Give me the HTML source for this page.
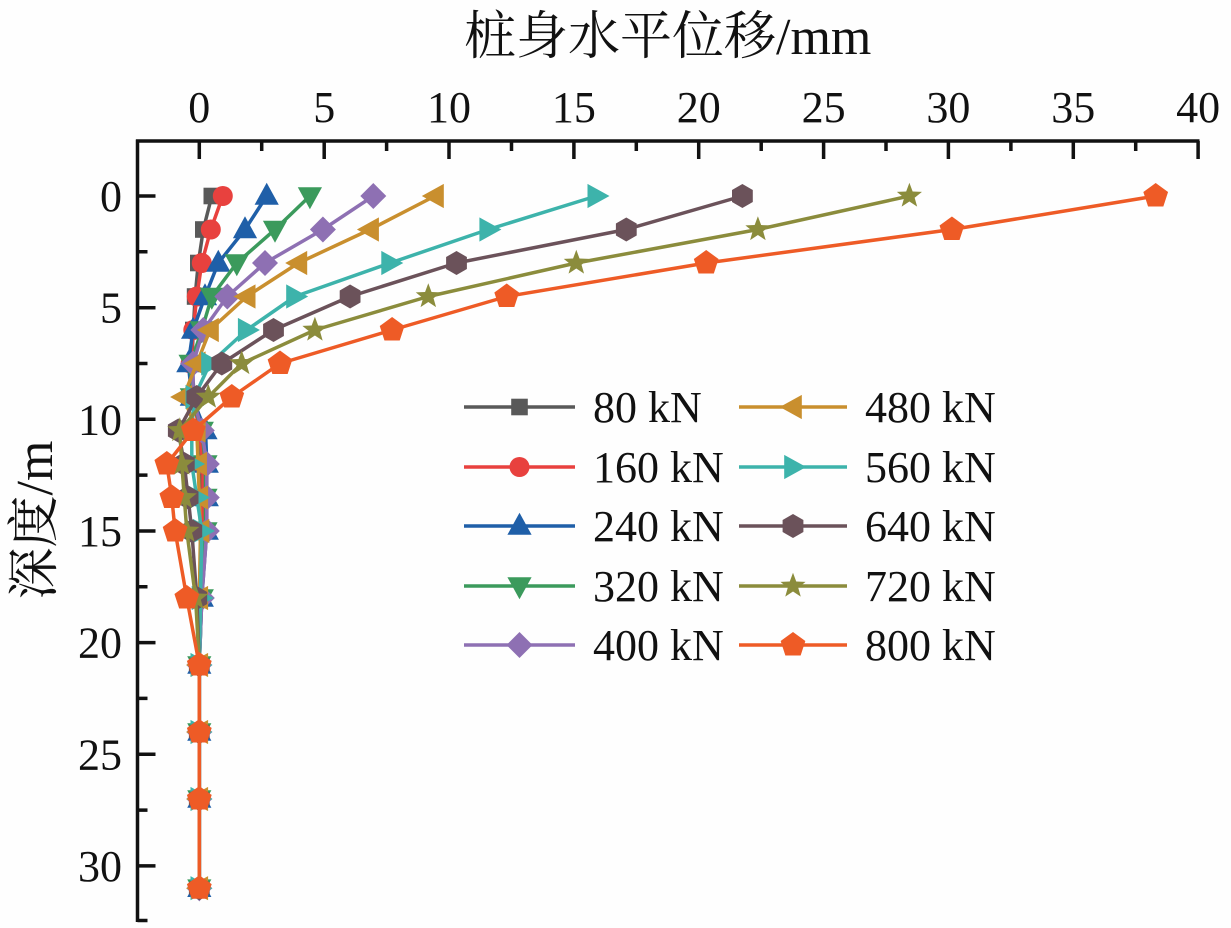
<!DOCTYPE html>
<html>
<head>
<meta charset="utf-8">
<style>
html,body{margin:0;padding:0;background:#fff;}
svg{display:block;}
.t{font-family:"Liberation Serif","Noto Serif CJK SC",serif;fill:#111;}
</style>
</head>
<body>
<svg width="1231" height="928" viewBox="0 0 1231 928" xmlns="http://www.w3.org/2000/svg">
<defs>
<rect id="sq" x="-8.3" y="-8.3" width="16.6" height="16.6"/>
<circle id="ci" cx="0" cy="0" r="10"/>
<polygon id="tu" points="0,-13.2 12.1,8.8 -12.1,8.8"/>
<polygon id="td" points="0,13.2 12.1,-8.8 -12.1,-8.8"/>
<polygon id="di" points="0,-13 13,0 0,13 -13,0"/>
<polygon id="tl" points="-13.2,0 8.8,-12.1 8.8,12.1"/>
<polygon id="tr" points="13.2,0 -8.8,-12.1 -8.8,12.1"/>
<polygon id="hx" points="0,-12 10.4,-6 10.4,6 0,12 -10.4,6 -10.4,-6"/>
<polygon id="st" points="0,-13.2 3.23,-4.46 12.55,-4.08 5.24,1.7 7.76,10.68 0,5.5 -7.76,10.68 -5.24,1.7 -12.55,-4.08 -3.23,-4.46"/>
<polygon id="pe" points="0,-13 12.36,-4.02 7.64,10.52 -7.64,10.52 -12.36,-4.02"/>
</defs>
<rect width="1231" height="928" fill="#fefefe"/>

<!-- titles -->
<text class="t" x="464" y="54" font-size="52">桩身水平位移/mm</text>
<text class="t" font-size="52" text-anchor="middle" transform="translate(52,520) rotate(-90)">深度/m</text>

<!-- axes -->
<g stroke="#111" stroke-width="3.5" fill="none">
<line x1="136" y1="141" x2="1199.5" y2="141"/>
<line x1="137.5" y1="139.5" x2="137.5" y2="922"/>
<path d="M199.3 141V159M324.2 141V159M449 141V159M573.9 141V159M698.7 141V159M823.6 141V159M948.4 141V159M1073.3 141V159M1198.1 141V159"/>
<path d="M261.7 141V151M386.6 141V151M511.5 141V151M636.3 141V151M761.2 141V151M886 141V151M1010.9 141V151M1135.7 141V151"/>
<path d="M137.5 196H155.5M137.5 307.7H155.5M137.5 419.3H155.5M137.5 531H155.5M137.5 642.6H155.5M137.5 754.3H155.5M137.5 865.9H155.5"/>
<path d="M137.5 251.8H147.5M137.5 363.5H147.5M137.5 475.1H147.5M137.5 586.8H147.5M137.5 698.4H147.5M137.5 810.1H147.5M137.5 920.5H147.5"/>
</g>

<!-- x tick labels -->
<g class="t" font-size="44" text-anchor="middle">
<text x="199.3" y="122">0</text>
<text x="324.2" y="122">5</text>
<text x="449" y="122">10</text>
<text x="573.9" y="122">15</text>
<text x="698.7" y="122">20</text>
<text x="823.6" y="122">25</text>
<text x="948.4" y="122">30</text>
<text x="1073.3" y="122">35</text>
<text x="1198.1" y="122">40</text>
</g>
<!-- y tick labels -->
<g class="t" font-size="44" text-anchor="end">
<text x="122" y="211">0</text>
<text x="122" y="322.7">5</text>
<text x="122" y="434.3">10</text>
<text x="122" y="546">15</text>
<text x="122" y="657.6">20</text>
<text x="122" y="769.3">25</text>
<text x="122" y="880.9">30</text>
</g>

<!-- series -->
<g fill="#595959">
<polyline fill="none" stroke="#595959" stroke-width="3.5" stroke-linejoin="round" points="211.8,196 203.3,229.5 198.3,263 195.1,296.5 193.3,330 191.8,363.5 194.3,397 199.3,430.5 201.8,464 201.8,497.5 201.8,531 200.5,598 199.3,665 199.3,732 199.3,799 199.3,888.2"/>
<use href="#sq" x="211.8" y="196"/><use href="#sq" x="203.3" y="229.5"/><use href="#sq" x="198.3" y="263"/><use href="#sq" x="195.1" y="296.5"/><use href="#sq" x="193.3" y="330"/><use href="#sq" x="191.8" y="363.5"/><use href="#sq" x="194.3" y="397"/><use href="#sq" x="199.3" y="430.5"/><use href="#sq" x="201.8" y="464"/><use href="#sq" x="201.8" y="497.5"/><use href="#sq" x="201.8" y="531"/><use href="#sq" x="200.5" y="598"/><use href="#sq" x="199.3" y="665"/><use href="#sq" x="199.3" y="732"/><use href="#sq" x="199.3" y="799"/><use href="#sq" x="199.3" y="888.2"/>
</g>
<g fill="#e8413e">
<polyline fill="none" stroke="#e8413e" stroke-width="3.5" stroke-linejoin="round" points="222.8,196 210.8,229.5 201.8,263 196.8,296.5 193.3,330 190.6,363.5 193.1,397 199.3,430.5 203,464 203,497.5 201.8,531 200.5,598 199.3,665 199.3,732 199.3,799 199.3,888.2"/>
<use href="#ci" x="222.8" y="196"/><use href="#ci" x="210.8" y="229.5"/><use href="#ci" x="201.8" y="263"/><use href="#ci" x="196.8" y="296.5"/><use href="#ci" x="193.3" y="330"/><use href="#ci" x="190.6" y="363.5"/><use href="#ci" x="193.1" y="397"/><use href="#ci" x="199.3" y="430.5"/><use href="#ci" x="203" y="464"/><use href="#ci" x="203" y="497.5"/><use href="#ci" x="201.8" y="531"/><use href="#ci" x="200.5" y="598"/><use href="#ci" x="199.3" y="665"/><use href="#ci" x="199.3" y="732"/><use href="#ci" x="199.3" y="799"/><use href="#ci" x="199.3" y="888.2"/>
</g>
<g fill="#1f5fa8">
<polyline fill="none" stroke="#1f5fa8" stroke-width="3.5" stroke-linejoin="round" points="266.7,196 245,229.5 218.3,263 205,296.5 193.1,330 188.3,363.5 191.8,397 205.5,430.5 206.8,464 206.8,497.5 206.8,531 201.8,598 199.3,665 199.3,732 199.3,799 199.3,888.2"/>
<use href="#tu" x="266.7" y="196"/><use href="#tu" x="245" y="229.5"/><use href="#tu" x="218.3" y="263"/><use href="#tu" x="205" y="296.5"/><use href="#tu" x="193.1" y="330"/><use href="#tu" x="188.3" y="363.5"/><use href="#tu" x="191.8" y="397"/><use href="#tu" x="205.5" y="430.5"/><use href="#tu" x="206.8" y="464"/><use href="#tu" x="206.8" y="497.5"/><use href="#tu" x="206.8" y="531"/><use href="#tu" x="201.8" y="598"/><use href="#tu" x="199.3" y="665"/><use href="#tu" x="199.3" y="732"/><use href="#tu" x="199.3" y="799"/><use href="#tu" x="199.3" y="888.2"/>
</g>
<g fill="#3b9a5c">
<polyline fill="none" stroke="#3b9a5c" stroke-width="3.5" stroke-linejoin="round" points="309.9,196 275,229.5 236.8,263 211.8,296.5 201.8,330 190.6,363.5 191.8,397 201.8,430.5 205.5,464 205.5,497.5 205.5,531 201.8,598 199.3,665 199.3,732 199.3,799 199.3,888.2"/>
<use href="#td" x="309.9" y="196"/><use href="#td" x="275" y="229.5"/><use href="#td" x="236.8" y="263"/><use href="#td" x="211.8" y="296.5"/><use href="#td" x="201.8" y="330"/><use href="#td" x="190.6" y="363.5"/><use href="#td" x="191.8" y="397"/><use href="#td" x="201.8" y="430.5"/><use href="#td" x="205.5" y="464"/><use href="#td" x="205.5" y="497.5"/><use href="#td" x="205.5" y="531"/><use href="#td" x="201.8" y="598"/><use href="#td" x="199.3" y="665"/><use href="#td" x="199.3" y="732"/><use href="#td" x="199.3" y="799"/><use href="#td" x="199.3" y="888.2"/>
</g>
<g fill="#8e70b3">
<polyline fill="none" stroke="#8e70b3" stroke-width="3.5" stroke-linejoin="round" points="373.3,196 322.9,229.5 265,263 227.3,296.5 203.3,330 193.1,363.5 193.1,397 201.8,430.5 206.8,464 206.8,497.5 206.8,531 201.8,598 199.3,665 199.3,732 199.3,799 199.3,888.2"/>
<use href="#di" x="373.3" y="196"/><use href="#di" x="322.9" y="229.5"/><use href="#di" x="265" y="263"/><use href="#di" x="227.3" y="296.5"/><use href="#di" x="203.3" y="330"/><use href="#di" x="193.1" y="363.5"/><use href="#di" x="193.1" y="397"/><use href="#di" x="201.8" y="430.5"/><use href="#di" x="206.8" y="464"/><use href="#di" x="206.8" y="497.5"/><use href="#di" x="206.8" y="531"/><use href="#di" x="201.8" y="598"/><use href="#di" x="199.3" y="665"/><use href="#di" x="199.3" y="732"/><use href="#di" x="199.3" y="799"/><use href="#di" x="199.3" y="888.2"/>
</g>
<g fill="#c98f2e">
<polyline fill="none" stroke="#c98f2e" stroke-width="3.5" stroke-linejoin="round" points="435,196 370.1,229.5 298.4,263 246.7,296.5 210,330 196.8,363.5 183.3,397 196.8,430.5 198.1,464 199.3,497.5 200.5,531 199.3,598 199.3,665 199.3,732 199.3,799 199.3,888.2"/>
<use href="#tl" x="435" y="196"/><use href="#tl" x="370.1" y="229.5"/><use href="#tl" x="298.4" y="263"/><use href="#tl" x="246.7" y="296.5"/><use href="#tl" x="210" y="330"/><use href="#tl" x="196.8" y="363.5"/><use href="#tl" x="183.3" y="397"/><use href="#tl" x="196.8" y="430.5"/><use href="#tl" x="198.1" y="464"/><use href="#tl" x="199.3" y="497.5"/><use href="#tl" x="200.5" y="531"/><use href="#tl" x="199.3" y="598"/><use href="#tl" x="199.3" y="665"/><use href="#tl" x="199.3" y="732"/><use href="#tl" x="199.3" y="799"/><use href="#tl" x="199.3" y="888.2"/>
</g>
<g fill="#3db3ab">
<polyline fill="none" stroke="#3db3ab" stroke-width="3.5" stroke-linejoin="round" points="596.3,196 488.2,229.5 390.1,263 295,296.5 246.7,330 210,363.5 194.3,397 191.8,430.5 191.8,464 196.8,497.5 201.8,531 200.5,598 199.3,665 199.3,732 199.3,799 199.3,888.2"/>
<use href="#tr" x="596.3" y="196"/><use href="#tr" x="488.2" y="229.5"/><use href="#tr" x="390.1" y="263"/><use href="#tr" x="295" y="296.5"/><use href="#tr" x="246.7" y="330"/><use href="#tr" x="210" y="363.5"/><use href="#tr" x="194.3" y="397"/><use href="#tr" x="191.8" y="430.5"/><use href="#tr" x="191.8" y="464"/><use href="#tr" x="196.8" y="497.5"/><use href="#tr" x="201.8" y="531"/><use href="#tr" x="200.5" y="598"/><use href="#tr" x="199.3" y="665"/><use href="#tr" x="199.3" y="732"/><use href="#tr" x="199.3" y="799"/><use href="#tr" x="199.3" y="888.2"/>
</g>
<g fill="#6b525a">
<polyline fill="none" stroke="#6b525a" stroke-width="3.5" stroke-linejoin="round" points="742.4,196 626.3,229.5 456.5,263 350.1,296.5 273.5,330 221.8,363.5 196.8,397 178.3,430.5 184.3,464 188.1,497.5 191.8,531 196.8,598 199.3,665 199.3,732 199.3,799 199.3,888.2"/>
<use href="#hx" x="742.4" y="196"/><use href="#hx" x="626.3" y="229.5"/><use href="#hx" x="456.5" y="263"/><use href="#hx" x="350.1" y="296.5"/><use href="#hx" x="273.5" y="330"/><use href="#hx" x="221.8" y="363.5"/><use href="#hx" x="196.8" y="397"/><use href="#hx" x="178.3" y="430.5"/><use href="#hx" x="184.3" y="464"/><use href="#hx" x="188.1" y="497.5"/><use href="#hx" x="191.8" y="531"/><use href="#hx" x="196.8" y="598"/><use href="#hx" x="199.3" y="665"/><use href="#hx" x="199.3" y="732"/><use href="#hx" x="199.3" y="799"/><use href="#hx" x="199.3" y="888.2"/>
</g>
<g fill="#8b8c3c">
<polyline fill="none" stroke="#8b8c3c" stroke-width="3.5" stroke-linejoin="round" points="909.4,196 757.9,229.5 576.3,263 428.3,296.5 314.9,330 241.7,363.5 208.3,397 179.8,430.5 181.8,464 184.3,497.5 186.8,531 195.6,598 199.3,665 199.3,732 199.3,799 199.3,888.2"/>
<use href="#st" x="909.4" y="196"/><use href="#st" x="757.9" y="229.5"/><use href="#st" x="576.3" y="263"/><use href="#st" x="428.3" y="296.5"/><use href="#st" x="314.9" y="330"/><use href="#st" x="241.7" y="363.5"/><use href="#st" x="208.3" y="397"/><use href="#st" x="179.8" y="430.5"/><use href="#st" x="181.8" y="464"/><use href="#st" x="184.3" y="497.5"/><use href="#st" x="186.8" y="531"/><use href="#st" x="195.6" y="598"/><use href="#st" x="199.3" y="665"/><use href="#st" x="199.3" y="732"/><use href="#st" x="199.3" y="799"/><use href="#st" x="199.3" y="888.2"/>
</g>
<g fill="#ee5b26">
<polyline fill="none" stroke="#ee5b26" stroke-width="3.5" stroke-linejoin="round" points="1155.7,196 951.9,229.5 706.2,263 506.7,296.5 392.1,330 280,363.5 231.8,397 193.3,430.5 166.8,464 171.8,497.5 175.1,531 186.8,598 199.3,665 199.3,732 199.3,799 199.3,888.2"/>
<use href="#pe" x="1155.7" y="196"/><use href="#pe" x="951.9" y="229.5"/><use href="#pe" x="706.2" y="263"/><use href="#pe" x="506.7" y="296.5"/><use href="#pe" x="392.1" y="330"/><use href="#pe" x="280" y="363.5"/><use href="#pe" x="231.8" y="397"/><use href="#pe" x="193.3" y="430.5"/><use href="#pe" x="166.8" y="464"/><use href="#pe" x="171.8" y="497.5"/><use href="#pe" x="175.1" y="531"/><use href="#pe" x="186.8" y="598"/><use href="#pe" x="199.3" y="665"/><use href="#pe" x="199.3" y="732"/><use href="#pe" x="199.3" y="799"/><use href="#pe" x="199.3" y="888.2"/>
</g>

<!-- legend -->
<g stroke-width="3.5">
<line x1="464" y1="407" x2="575" y2="407" stroke="#595959"/>
<line x1="464" y1="467" x2="575" y2="467" stroke="#e8413e"/>
<line x1="464" y1="526" x2="575" y2="526" stroke="#1f5fa8"/>
<line x1="464" y1="586" x2="575" y2="586" stroke="#3b9a5c"/>
<line x1="464" y1="645" x2="575" y2="645" stroke="#8e70b3"/>
<line x1="739" y1="407" x2="847" y2="407" stroke="#c98f2e"/>
<line x1="739" y1="467" x2="847" y2="467" stroke="#3db3ab"/>
<line x1="739" y1="526" x2="847" y2="526" stroke="#6b525a"/>
<line x1="739" y1="586" x2="847" y2="586" stroke="#8b8c3c"/>
<line x1="739" y1="645" x2="847" y2="645" stroke="#ee5b26"/>
</g>
<use href="#sq" x="519.5" y="407" fill="#595959"/>
<use href="#ci" x="519.5" y="467" fill="#e8413e"/>
<use href="#tu" x="519.5" y="526" fill="#1f5fa8"/>
<use href="#td" x="519.5" y="586" fill="#3b9a5c"/>
<use href="#di" x="519.5" y="645" fill="#8e70b3"/>
<use href="#tl" x="793" y="407" fill="#c98f2e"/>
<use href="#tr" x="793" y="467" fill="#3db3ab"/>
<use href="#hx" x="793" y="526" fill="#6b525a"/>
<use href="#st" x="793" y="586" fill="#8b8c3c"/>
<use href="#pe" x="793" y="645" fill="#ee5b26"/>
<g class="t" font-size="44">
<text x="593" y="422">80 kN</text>
<text x="593" y="482">160 kN</text>
<text x="593" y="541">240 kN</text>
<text x="593" y="601">320 kN</text>
<text x="593" y="660">400 kN</text>
<text x="865" y="422">480 kN</text>
<text x="865" y="482">560 kN</text>
<text x="865" y="541">640 kN</text>
<text x="865" y="601">720 kN</text>
<text x="865" y="660">800 kN</text>
</g>
</svg>
</body>
</html>
